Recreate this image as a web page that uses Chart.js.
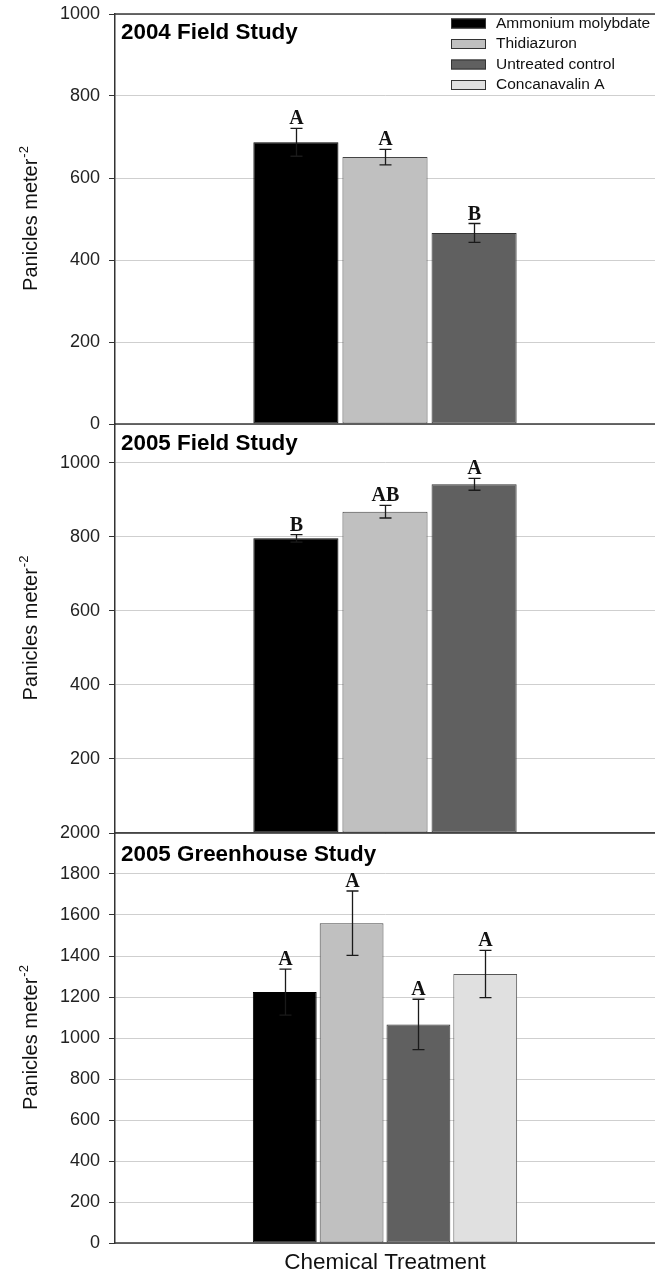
<!DOCTYPE html>
<html>
<head>
<meta charset="utf-8">
<title>Panicles per square meter by chemical treatment</title>
<script src="https://cdn.jsdelivr.net/npm/chart.js@4"></script>
<style>
  html, body { margin: 0; padding: 0; background: #ffffff; }
  #wrap { position: relative; width: 655px; height: 1276px; overflow: hidden; }
  .panel { position: absolute; left: 0; width: 655px; }
</style>
</head>
<body>
<div id="wrap">
  <div class="panel" style="top:0px;height:440px"><canvas id="field2004"></canvas></div>
  <div class="panel" style="top:410px;height:440px"><canvas id="field2005"></canvas></div>
  <div class="panel" style="top:819px;height:457px"><canvas id="greenhouse2005"></canvas></div>
</div>
<script>
// ---- data ----
const treatments = ['Ammonium molybdate', 'Thidiazuron', 'Untreated control', 'Concanavalin A'];

const field2004Means   = [687, 651, 466];
const field2004Errors  = [34, 19, 23];
const field2004Letters = ['A', 'A', 'B'];
const field2004Ticks   = [0, 200, 400, 600, 800, 1000];

const field2005Means   = [796, 868, 942];
const field2005Errors  = [10, 17, 16];
const field2005Letters = ['B', 'AB', 'A'];
const field2005Ticks   = [0, 200, 400, 600, 800, 1000];

const greenhouse2005Means   = [1224, 1560, 1066, 1312];
const greenhouse2005Errors  = [112, 157, 123, 115];
const greenhouse2005Letters = ['A', 'A', 'A', 'A'];
const greenhouse2005Ticks   = [0, 200, 400, 600, 800, 1000, 1200, 1400, 1600, 1800, 2000];

const yAxisTitle = 'Panicles meter';
const yAxisTitleSup = '-2';
const xAxisTitle = 'Chemical Treatment';

// ---- styling ----
const fills = ['#000000', '#c0c0c0', '#606060', '#e0e0e0'];
const edges = ['#000000', '#444444', '#333333', '#555555'];
const SANS = '"Liberation Sans", Arial, sans-serif';
const SERIF = '"Liberation Serif", "Times New Roman", serif';

// error bars with significance letters
const errorBarPlugin = {
  id: 'errorBars',
  afterDatasetsDraw(chart, args, opts) {
    const ctx = chart.ctx;
    const y = chart.scales.y;
    ctx.save();
    chart.data.datasets.forEach((ds, i) => {
      const meta = chart.getDatasetMeta(i);
      const bar = meta.data[0];
      if (!bar) return;
      const v = ds.data[0];
      const e = opts.errors[i];
      const yt = y.getPixelForValue(v + e);
      const yb = y.getPixelForValue(v - e);
      const x = Math.round(bar.x) + 0.5;
      ctx.strokeStyle = '#1a1a1a';
      ctx.lineWidth = 1.3;
      ctx.beginPath();
      ctx.moveTo(x, yt); ctx.lineTo(x, yb);
      ctx.moveTo(x - 6, yt); ctx.lineTo(x + 6, yt);
      ctx.moveTo(x - 6, yb); ctx.lineTo(x + 6, yb);
      ctx.stroke();
      ctx.fillStyle = '#111111';
      ctx.font = 'bold 20px ' + SERIF;
      ctx.textAlign = 'center';
      ctx.textBaseline = 'alphabetic';
      ctx.fillText(opts.letters[i], x, yt - 4);
    });
    ctx.restore();
  }
};

// dark horizontal frame lines, panel heading, rotated y title, legend
const framePlugin = {
  id: 'panelFrame',
  afterDatasetsDraw(chart, args, opts) {
    const ctx = chart.ctx;
    const a = chart.chartArea;
    ctx.save();
    ctx.strokeStyle = '#3a3a3a';
    ctx.lineWidth = 1.5;
    ctx.beginPath();
    ctx.moveTo(a.left, a.bottom); ctx.lineTo(a.right, a.bottom);
    if (opts.topLine) { ctx.moveTo(a.left, a.top); ctx.lineTo(a.right, a.top); }
    ctx.stroke();

    // heading
    ctx.fillStyle = '#000000';
    ctx.font = 'bold 22.4px ' + SANS;
    ctx.textAlign = 'left';
    ctx.textBaseline = 'alphabetic';
    ctx.fillText(opts.heading, a.left + 6, a.top + opts.headingDrop);

    // y title with superscript
    ctx.font = '20px ' + SANS;
    const w1 = ctx.measureText(yAxisTitle).width;
    ctx.font = '13px ' + SANS;
    const w2 = ctx.measureText(yAxisTitleSup).width;
    ctx.translate(37, (a.top + a.bottom) / 2);
    ctx.rotate(-Math.PI / 2);
    ctx.fillStyle = '#111111';
    ctx.font = '20px ' + SANS;
    ctx.fillText(yAxisTitle, -(w1 + w2) / 2, 0);
    ctx.font = '13px ' + SANS;
    ctx.fillText(yAxisTitleSup, -(w1 + w2) / 2 + w1 + 1, -9);
    ctx.setTransform(1, 0, 0, 1, 0, 0);

    if (opts.legend) {
      ctx.font = '15.5px ' + SANS;
      ctx.textBaseline = 'middle';
      treatments.forEach((name, i) => {
        const cy = a.top + 9.5 + i * 20.5;
        ctx.fillStyle = fills[i];
        ctx.fillRect(451, cy - 5, 35, 10);
        ctx.strokeStyle = '#333333';
        ctx.lineWidth = 1;
        ctx.strokeRect(451.5, cy - 4.5, 34, 9);
        ctx.fillStyle = '#111111';
        ctx.fillText(name, 496, cy);
      });
    }
    ctx.restore();
  }
};

function makePanel(id, cfg) {
  const datasets = cfg.means.map((m, i) => ({
    label: treatments[i],
    data: [m],
    backgroundColor: fills[i],
    borderColor: edges[i],
    borderWidth: 1,
    borderSkipped: false,
    categoryPercentage: 0.495,
    barPercentage: 0.955
  }));
  return new Chart(document.getElementById(id), {
    type: 'bar',
    data: { labels: [''], datasets },
    plugins: [errorBarPlugin, framePlugin],
    options: {
      responsive: true,
      maintainAspectRatio: false,
      animation: false,
      devicePixelRatio: 1,
      layout: { padding: { top: 14, right: 0, bottom: cfg.padBottom, left: 0 } },
      plugins: {
        legend: { display: false },
        tooltip: { enabled: false },
        errorBars: { errors: cfg.errors, letters: cfg.letters },
        panelFrame: {
          heading: cfg.heading, headingDrop: cfg.headingDrop,
          topLine: cfg.topLine, legend: cfg.legend
        }
      },
      scales: {
        x: cfg.xAxis ? {
          display: true,
          grid: { display: false },
          border: { display: false },
          ticks: { display: false },
          title: {
            display: true, text: xAxisTitle, color: '#111111',
            font: { family: SANS, size: 22.5 }, padding: { top: 2, bottom: 0 }
          },
          afterFit: s => { s.height = 33; }
        } : { display: false },
        y: {
          min: 0,
          max: cfg.max,
          afterFit: s => { s.width = 115; },
          afterBuildTicks: s => { s.ticks = cfg.ticks.map(v => ({ value: v })); },
          grid: { color: '#cfcfcf', lineWidth: 1, tickColor: '#333333', tickLength: 6 },
          border: { color: '#333333', width: 1.5 },
          ticks: {
            color: '#222222',
            font: { family: SANS, size: 18, lineHeight: '8px' },
            padding: 9,
            callback: v => (cfg.hideZero && v === 0) ? '' : String(v)
          }
        }
      }
    }
  });
}

makePanel('field2004', {
  means: field2004Means, errors: field2004Errors, letters: field2004Letters,
  ticks: field2004Ticks, max: 1000, heading: '2004 Field Study', headingDrop: 25,
  topLine: true, legend: true, padBottom: 16, xAxis: false, hideZero: false
});
makePanel('field2005', {
  means: field2005Means, errors: field2005Errors, letters: field2005Letters,
  ticks: field2005Ticks, max: 1105, heading: '2005 Field Study', headingDrop: 26,
  topLine: false, legend: false, padBottom: 17, xAxis: false, hideZero: true
});
makePanel('greenhouse2005', {
  means: greenhouse2005Means, errors: greenhouse2005Errors, letters: greenhouse2005Letters,
  ticks: greenhouse2005Ticks, max: 2000, heading: '2005 Greenhouse Study', headingDrop: 28,
  topLine: true, legend: false, padBottom: 0, xAxis: true, hideZero: false
});
</script>
</body>
</html>
